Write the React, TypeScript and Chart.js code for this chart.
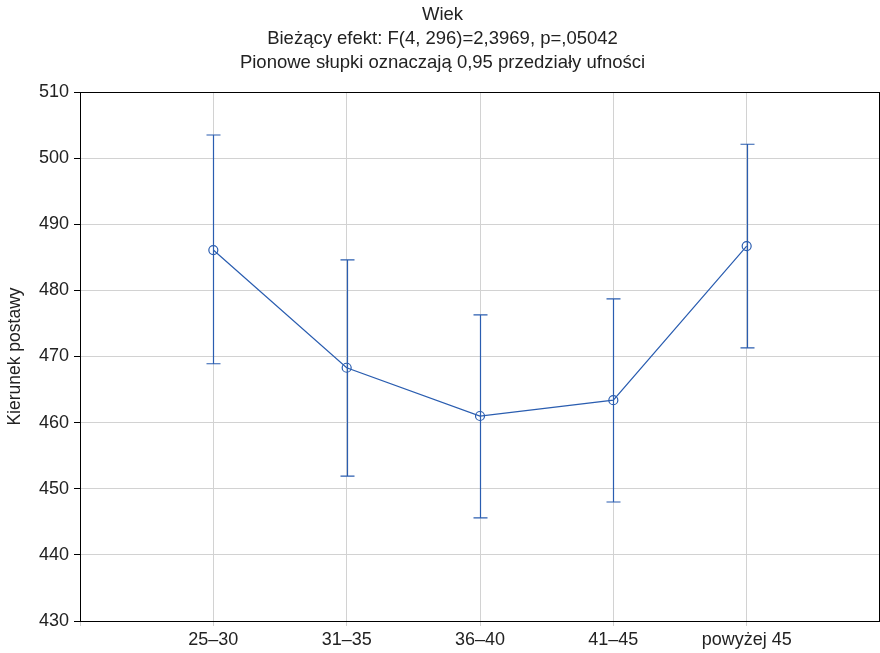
import React, { useEffect, useRef } from "react";
import { Chart, registerables } from "chart.js";

Chart.register(...registerables);

const categories = ["25–30", "31–35", "36–40", "41–45", "powyżej 45"];
const means = [486.1, 468.3, 461.0, 463.4, 486.7];
const upper = [503.5, 484.6, 476.3, 478.7, 502.1];
const lower = [468.9, 451.9, 445.6, 448.0, 471.3];
const titleLines = [
  "Wiek",
  "Bieżący efekt: F(4, 296)=2,3969, p=,05042",
  "Pionowe słupki oznaczają 0,95 przedziały ufności",
];
const yTitle = "Kierunek postawy";

const BLUE = "#2a5db0";
const FONT = "Arial, 'Liberation Sans', sans-serif";

const errorBars = {
  id: "errorBars",
  beforeDatasetsDraw(chart: any) {
    const ctx = chart.ctx;
    const xs = chart.scales.x;
    const ys = chart.scales.y;
    ctx.save();
    ctx.strokeStyle = BLUE;
    ctx.lineWidth = 1.2;
    for (let i = 0; i < means.length; i++) {
      const x = Math.round(xs.getPixelForValue(i + 1)) + 0.5;
      const yu = ys.getPixelForValue(upper[i]);
      const yl = ys.getPixelForValue(lower[i]);
      ctx.beginPath();
      ctx.moveTo(x, yu);
      ctx.lineTo(x, yl);
      ctx.moveTo(x - 7, yu);
      ctx.lineTo(x + 7, yu);
      ctx.moveTo(x - 7, yl);
      ctx.lineTo(x + 7, yl);
      ctx.stroke();
    }
    ctx.restore();
  },
};

const frame = {
  id: "frame",
  afterDraw(chart: any) {
    const { left, right, top, bottom } = chart.chartArea;
    const ctx = chart.ctx;
    ctx.save();
    ctx.strokeStyle = "#000";
    ctx.lineWidth = 1;
    ctx.strokeRect(Math.round(left) + 0.5, Math.round(top) + 0.5, Math.round(right - left) - 1, Math.round(bottom - top));
    ctx.restore();
  },
};

export default function App() {
  const ref = useRef<HTMLCanvasElement>(null);
  useEffect(() => {
    const labels = ["", ...categories, ""];
    const chart = new Chart(ref.current!, {
      type: "line",
      data: {
        labels,
        datasets: [
          {
            data: [null, ...means, null],
            borderColor: BLUE,
            borderWidth: 1.2,
            backgroundColor: "#ffffff",
            pointBackgroundColor: "rgba(255,255,255,0)",
            pointBorderColor: BLUE,
            pointBorderWidth: 1.2,
            pointRadius: 4.5,
            tension: 0,
          },
        ],
      },
      options: {
        responsive: false,
        animation: false,
        devicePixelRatio: 1,
        layout: { autoPadding: false, padding: { left: 5, right: 0, top: 0, bottom: 0 } },
        plugins: {
          legend: { display: false },
          tooltip: { enabled: false },
          title: {
            display: true,
            text: titleLines,
            color: "#222",
            font: { family: FONT, size: 18.5, lineHeight: 24 / 18.5, weight: "normal" },
            padding: { top: 3, bottom: 17 },
          },
        },
        scales: {
          x: {
            type: "category",
            offset: false,
            grid: { color: "#d2d2d2", lineWidth: 1, tickLength: 5, drawTicks: true },
            border: { display: false },
            ticks: {
              color: "#222",
              padding: 3,
              maxRotation: 0,
              autoSkip: false,
              font: { family: FONT, size: 18 },
            },
            afterFit(scale: any) {
              scale.height = 32;
              scale.paddingLeft = 0;
              scale.paddingRight = 0;
            },
          },
          y: {
            min: 430,
            max: 510,
            grid: { color: "#d2d2d2", lineWidth: 1, tickLength: 6, tickColor: "#000" },
            border: { display: false },
            ticks: {
              stepSize: 10,
              color: "#222",
              padding: 5,
              font: { family: FONT, size: 18 },
            },
            title: {
              display: true,
              text: yTitle,
              color: "#222",
              padding: 0,
              font: { family: FONT, size: 17.5, lineHeight: 1.2 },
            },
            afterFit(scale: any) {
              scale.width = 75;
              scale.paddingTop = 0;
              scale.paddingBottom = 0;
            },
          },
        },
      },
      plugins: [errorBars, frame],
    });
    return () => chart.destroy();
  }, []);
  return (
    <div style={{ position: "absolute", left: 0, top: 0, width: 880, height: 653, background: "#fff" }}>
      <canvas ref={ref} width={880} height={653} />
    </div>
  );
}
